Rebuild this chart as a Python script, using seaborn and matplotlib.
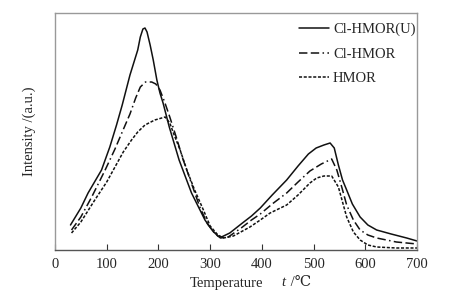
import numpy as np
import pandas as pd
import matplotlib
matplotlib.use("Agg")
import matplotlib.pyplot as plt
import seaborn as sns

# Data (temperature in degC, intensity in arbitrary units)
t_u = [30, 50, 64, 90, 106, 119, 130, 145, 160, 165, 170, 174, 178, 184, 190, 197, 203,
       209, 221, 240, 264, 290, 305, 315, 322, 338, 360, 380, 397, 420, 448, 470, 490,
       505, 520, 532, 540, 548, 556, 564, 575, 590, 605, 622, 650, 680, 700]
i_u = [25, 42, 57, 80, 103, 125, 145, 175, 200, 213, 221, 222, 218, 205, 190, 170, 157,
       147, 123, 90, 57, 30, 19, 14, 13, 17, 26, 34, 42, 55, 70, 84, 96,
       102, 105, 107, 102, 85, 70, 60, 46, 33, 25, 20, 16, 12, 9]

t_c = [32, 50, 71, 97, 116, 130, 145, 156, 165, 175, 187, 195, 203, 212, 222, 235,
       248, 265, 280, 295, 310, 320, 335, 360, 380, 397, 420, 448, 470, 493, 515, 535,
       545, 555, 564, 577, 590, 605, 622, 660, 700]
i_c = [20, 33, 53, 80, 101, 118, 136, 152, 163, 168, 168, 166, 160, 148, 133, 112,
       90, 65, 43, 26, 16, 12, 13, 22, 30, 36, 46, 57, 68, 79, 86, 91,
       80, 62, 45, 30, 20, 15, 12, 8, 6]

t_h = [32, 50, 77, 100, 116, 132, 148, 160, 174, 193, 213, 222, 229, 242, 255, 270, 287,
       300, 315, 326, 345, 377, 397, 416, 448, 470, 493, 506, 520, 535, 548, 556, 564,
       577, 590, 605, 622, 660, 700]
i_h = [17, 28, 50, 68, 83, 98, 110, 118, 125, 130, 133, 127, 117, 100, 80, 60, 40,
       24, 15, 12, 14, 23, 30, 37, 45, 55, 67, 72, 74, 74, 63, 48, 33,
       18, 10, 5, 3, 2, 2]

labels = ["Cl-HMOR(U)", "Cl-HMOR", "HMOR"]
x_ticks = [0, 100, 200, 300, 400, 500, 600, 700]

sns.set_theme(style="white")
plt.rcParams["font.family"] = ["Liberation Serif", "DejaVu Serif"]

fig = plt.figure(figsize=(4.64, 2.99), dpi=100)
ax = fig.add_axes([0.1185, 0.1639, 0.7802, 0.7926])

styles = [
    dict(linestyle="-"),
    dict(linestyle=(0, (5.5, 2.2, 5.5, 2.2, 1.0, 2.2))),
    dict(linestyle=(0, (2.0, 1.1))),
]
series = [(t_u, i_u), (t_c, i_c), (t_h, i_h)]
for (tx, iy), lab, st in zip(series, labels, styles):
    df = pd.DataFrame({"T": tx, "I": iy})
    sns.lineplot(data=df, x="T", y="I", ax=ax, color="#111111", linewidth=1.1,
                 label=lab, sort=False, **st)

ax.set_xlim(0, 700)
ax.set_ylim(0, 237)
ax.set_xticks(x_ticks)
ax.set_xticklabels([str(v) for v in x_ticks], fontsize=10.5)
ax.set_yticks([])
ax.tick_params(axis="x", direction="in", length=4, width=0.8, color="#333333",
               pad=6, bottom=True)
for s in ax.spines.values():
    s.set_color("#999999")
    s.set_linewidth(1.0)
ax.spines["bottom"].set_color("#555555")

ax.set_xlabel("")
fig.text(190 / 464, 1 - 283 / 299, "Temperature", fontsize=10.5, ha="left", va="center")
fig.text(281 / 464, 1 - 283 / 299, "t", fontsize=10.5, ha="left", va="center",
         style="italic")
fig.text(287 / 464, 1 - 283 / 299, " /\u2103", fontsize=10.5, ha="left", va="center")
ax.set_ylabel("Intensity /(a.u.)", fontsize=10.5, labelpad=14)

leg = ax.legend(loc="upper right", frameon=False, fontsize=10.5, handlelength=2.1,
                handletextpad=0.25, labelspacing=0.78, borderaxespad=0.1,
                bbox_to_anchor=(1.016, 0.99))

fig.savefig("out.png", dpi=100)
